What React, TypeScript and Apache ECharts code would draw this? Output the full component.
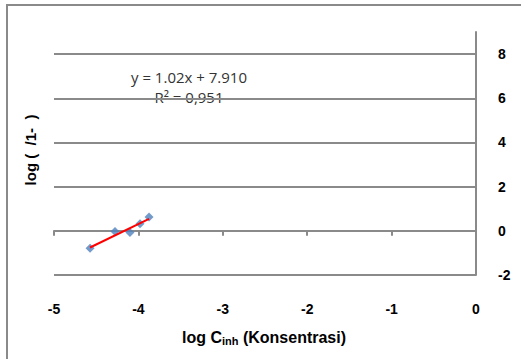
import React, { useEffect, useRef } from "react";
import * as echarts from "echarts";

// Data
const logC = [-4.573, -4.277, -4.1, -3.981, -3.874];
const logTheta = [-0.79, -0.03, -0.08, 0.32, 0.62];
// Trendline end points (as drawn in the picture)
const trendX = [-4.573, -3.874];
const trendY = [-0.755, 0.545];
const equationLines = ["y = 1.02x + 7.910", "R² = 0,951"];
const xTitle = "log C{sub|inh} (Konsentrasi)";
const yTitle = "log (  /1-  )";

const AXIS_GRAY = "#8a8a8a";
const LABEL_FONT = "'Liberation Sans Narrow', 'Liberation Sans', Arial, sans-serif";

export default function App() {
  const ref = useRef<HTMLDivElement>(null);
  useEffect(() => {
    if (!ref.current) return;
    const chart = echarts.init(ref.current, null, { renderer: "svg" });
    chart.setOption({
      animation: false,
      backgroundColor: "#ffffff",
      grid: { left: 54, right: 45, top: 32, bottom: 84, containLabel: false, outerBoundsMode: "none" },
      xAxis: {
        type: "value",
        position: "bottom",
        min: -5,
        max: 0,
        interval: 1,
        axisLine: { show: true, onZero: true, lineStyle: { color: AXIS_GRAY, width: 2 } },
        axisTick: { show: true, length: 5, lineStyle: { color: AXIS_GRAY, width: 2 } },
        axisLabel: {
          show: true,
          margin: 27,
          fontSize: 14,
          fontWeight: "bold",
          fontFamily: LABEL_FONT,
          color: "#000",
        },
        splitLine: { show: false },
      },
      yAxis: {
        type: "value",
        position: "right",
        min: -2,
        max: 9,
        interval: 2,
        axisLine: { show: true, onZero: false, lineStyle: { color: AXIS_GRAY, width: 2 } },
        axisTick: { show: false },
        axisLabel: {
          show: true,
          margin: 22,
          fontSize: 14,
          fontWeight: "bold",
          fontFamily: LABEL_FONT,
          color: "#000",
          showMaxLabel: false,
          formatter: (v: number) => (v === 9 ? "" : String(v)),
        },
        splitLine: {
          show: true,
          showMaxLine: false,
          lineStyle: { color: AXIS_GRAY, width: 2 },
        },
      },
      series: [
        {
          type: "line",
          data: trendX.map((x, i) => [x, trendY[i]]),
          showSymbol: false,
          symbol: "none",
          lineStyle: { color: "#ff0000", width: 2 },
          z: 3,
        },
        {
          type: "scatter",
          data: logC.map((x, i) => [x, logTheta[i]]),
          symbol: "diamond",
          symbolSize: 9,
          itemStyle: { color: "#4f81bd" },
          z: 2,
        },
      ],
      graphic: [
        {
          type: "rect",
          shape: { x: 7, y: 5, width: 600, height: 400 },
          style: { fill: "none", stroke: AXIS_GRAY, lineWidth: 2 },
          silent: true,
        },
        {
          type: "text",
          x: 264,
          y: 337,
          style: {
            text: xTitle,
            fontSize: 16,
            fontWeight: "bold",
            fontFamily: LABEL_FONT,
            fill: "#000",
            align: "center",
            verticalAlign: "middle",
            rich: {
              sub: {
                fontSize: 11,
                fontWeight: "bold",
                fontFamily: LABEL_FONT,
                fill: "#000",
                verticalAlign: "bottom",
                padding: [8, 0, 0, 0],
              },
            },
          },
        },
        {
          type: "text",
          x: 30,
          y: 150,
          rotation: Math.PI / 2,
          style: {
            text: yTitle,
            fontSize: 15,
            fontWeight: "bold",
            fontFamily: LABEL_FONT,
            fill: "#000",
            align: "center",
            verticalAlign: "middle",
          },
        },
        {
          type: "text",
          x: 189,
          y: 77,
          style: {
            text: equationLines[0],
            fontSize: 15,
            fontFamily: "'Open Sans', 'Liberation Sans', sans-serif",
            fill: "#333",
            align: "center",
            verticalAlign: "middle",
          },
        },
        {
          type: "text",
          x: 189,
          y: 97,
          z: -1,
          style: {
            text: equationLines[1],
            fontSize: 15,
            fontFamily: "'Open Sans', 'Liberation Sans', sans-serif",
            fill: "#333",
            align: "center",
            verticalAlign: "middle",
          },
        },
      ],
    });
    return () => chart.dispose();
  }, []);
  return (
    <div
      ref={ref}
      style={{ position: "fixed", left: 0, top: 0, width: 521, height: 359, background: "#fff" }}
    />
  );
}
